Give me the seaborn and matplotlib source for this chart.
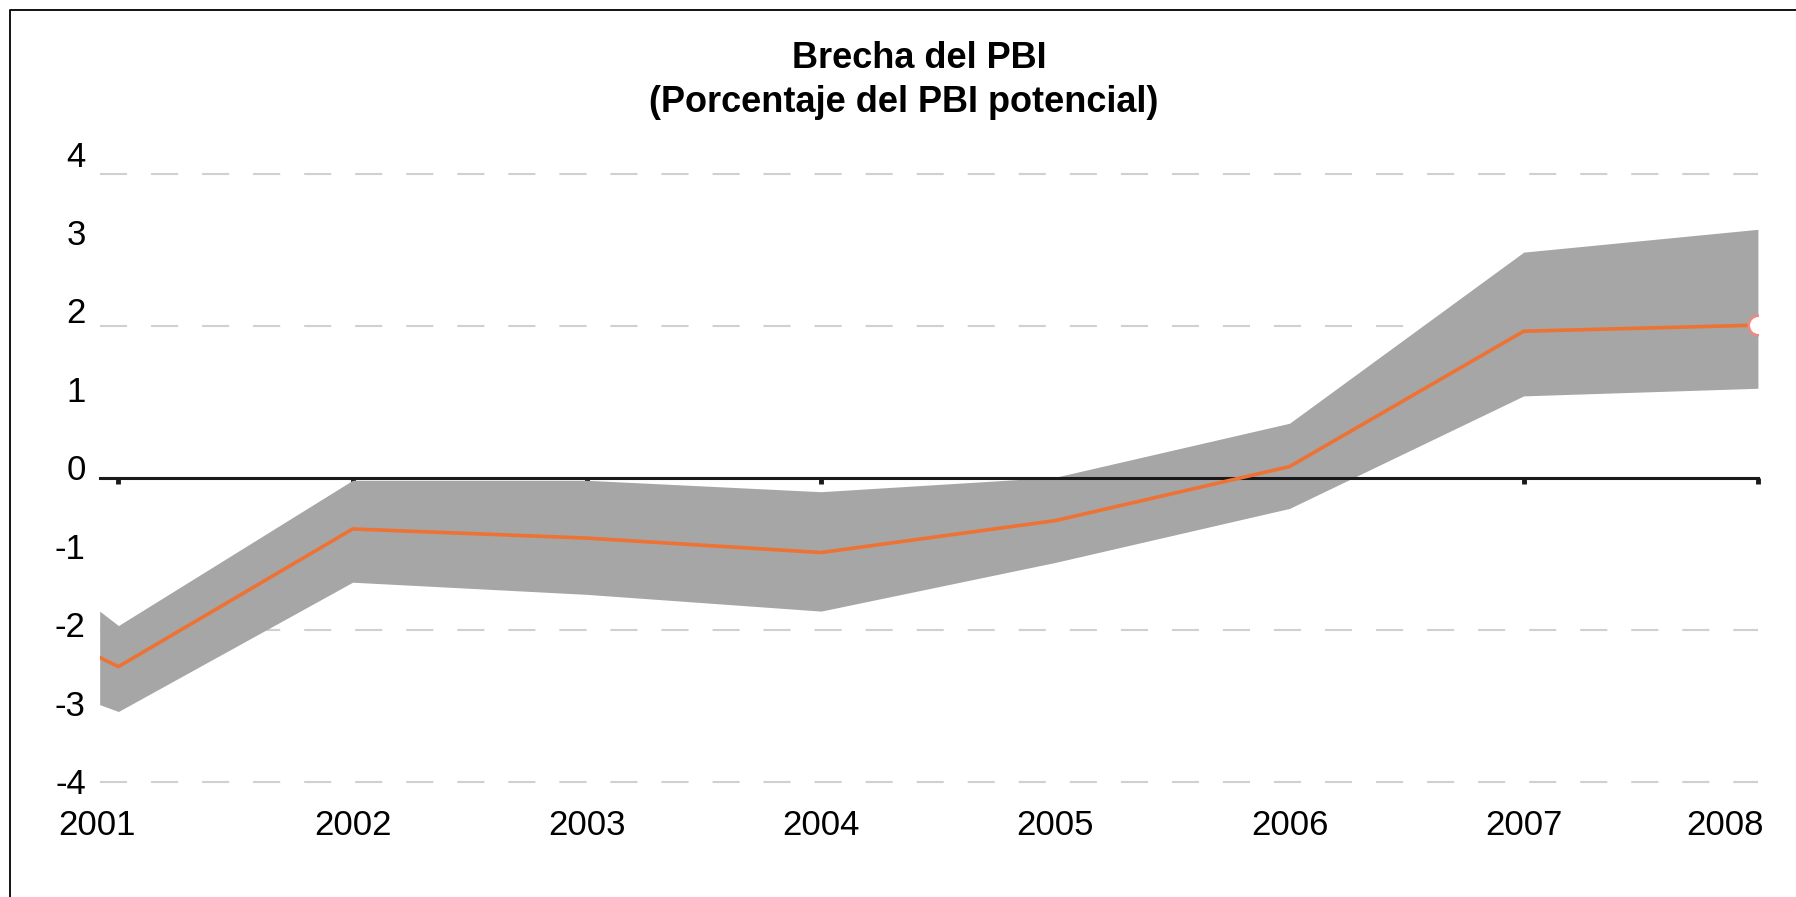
import numpy as np
import pandas as pd
import matplotlib
matplotlib.use("Agg")
import matplotlib.pyplot as plt
import matplotlib.transforms as mtransforms
from matplotlib.lines import Line2D
import seaborn as sb

# values (percent of potential GDP)
periodo = [2000.92, 2001, 2002, 2003, 2004, 2005, 2006, 2007, 2008]
brecha = [-2.36, -2.48, -0.67, -0.79, -0.98, -0.56, 0.15, 1.93, 2.01]
banda_sup = [-1.75, -1.94, -0.03, -0.03, -0.18, 0.01, 0.72, 2.97, 3.27]
banda_inf = [-2.98, -3.07, -1.37, -1.53, -1.75, -1.11, -0.40, 1.08, 1.18]

anios = [2001, 2002, 2003, 2004, 2005, 2006, 2007, 2008]
niveles_y = [-4, -3, -2, -1, 0, 1, 2, 3, 4]
lineas_guia = [4, 2, -2, -4]

sb.set_style("white")
plt.rcParams['font.family'] = ['Liberation Sans', 'DejaVu Sans']
plt.rcParams['text.color'] = 'black'
plt.rcParams['xtick.color'] = 'black'
plt.rcParams['ytick.color'] = 'black'

df = pd.DataFrame({'periodo': periodo, 'brecha': brecha,
                   'sup': banda_sup, 'inf': banda_inf})

fig = plt.figure(figsize=(17.96, 8.97), dpi=100)
ax = fig.add_axes([0.0555, 0.1237, 0.9233, 0.6868])

for g in lineas_guia:
    ax.axhline(g, color='#d0d0d0', lw=1.5, dashes=(13, 11.5), zorder=0.5)

ax.fill_between(df['periodo'], df['inf'], df['sup'], color='#a6a6a6', lw=0, zorder=1)
sb.lineplot(data=df, x='periodo', y='brecha', ax=ax, color='#ee7234', lw=2.6, zorder=3)
ax.plot(df['periodo'].iloc[-1], df['brecha'].iloc[-1], marker='o', ms=14,
        mfc='white', mec='#f08a80', mew=1.8, zorder=4)

ax.set_xlim(2000.92, 2008)
ax.set_ylim(-4.05, 4.05)
ax.set_xlabel('')
ax.set_ylabel('')

for s in ['top', 'right', 'left']:
    ax.spines[s].set_visible(False)
ax.spines['bottom'].set_position(('data', 0))
ax.spines['bottom'].set_linewidth(2.2)
ax.spines['bottom'].set_color('#1a1a1a')
ax.spines['bottom'].set_zorder(2.5)

ax.set_xticks(anios)
ax.set_xticklabels([str(a) for a in anios])
ax.set_yticks(niveles_y)
ax.set_yticklabels([str(v) for v in niveles_y])
ax.tick_params(axis='x', bottom=True, direction='out', length=4, width=3.5, color='#1a1a1a',
               labelsize=25, labelcolor='black', pad=234)
ax.tick_params(axis='y', left=False, length=0, labelsize=25, labelcolor='black', pad=10)

# labels drift above their grid lines going up in the original
for lab, v in zip(ax.get_yticklabels(), niveles_y):
    up = mtransforms.ScaledTranslation(0, (1 + 2.4 * (v + 4)) / 100, fig.dpi_scale_trans)
    lab.set_transform(lab.get_transform() + up)
xl = ax.get_xticklabels()
xl[0].set_transform(xl[0].get_transform() + mtransforms.ScaledTranslation(-21 / 100, 0, fig.dpi_scale_trans))
xl[-1].set_transform(xl[-1].get_transform() + mtransforms.ScaledTranslation(-33 / 100, 0, fig.dpi_scale_trans))

fig.text(0.512, 1 - 58 / 897, 'Brecha del PBI', ha='center', va='center',
         fontsize=26, fontweight='bold', color='black')
fig.text(0.503, 1 - 102 / 897, '(Porcentaje del PBI potencial)', ha='center', va='center',
         fontsize=26, fontweight='bold', color='black')

# outer frame (left and top edges visible in the original crop)
fig.add_artist(Line2D([10 / 1796, 10 / 1796, 1], [0, 1 - 10 / 897, 1 - 10 / 897],
                      transform=fig.transFigure, color='black', lw=1.3))

fig.savefig('out.png', dpi=100)
